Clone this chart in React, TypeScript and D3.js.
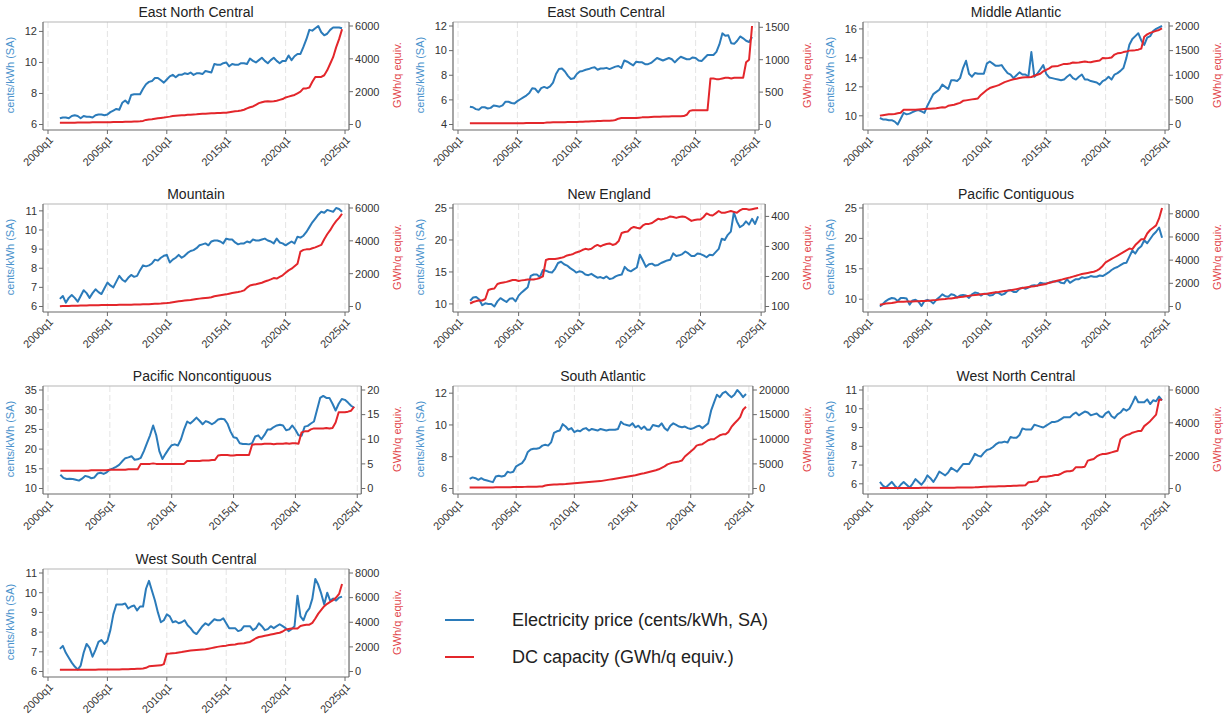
import React from "react";
import * as d3 from "d3";

const W = 1225;
const H = 717;

// ---------- data ----------
const years = d3.range(2001, 2025);
const quarterTimes = years.flatMap((y) => [y, y + 0.25, y + 0.5, y + 0.75]);
const xTickYears = [2000, 2005, 2010, 2015, 2020, 2025];

const regions = [
  "East North Central",
  "East South Central",
  "Middle Atlantic",
  "Mountain",
  "New England",
  "Pacific Contiguous",
  "Pacific Noncontiguous",
  "South Atlantic",
  "West North Central",
  "West South Central",
];

const priceENC = [
  6.40, 6.45, 6.45, 6.40,
  6.55, 6.60, 6.55, 6.40,
  6.55, 6.50, 6.50, 6.45,
  6.60, 6.65, 6.65, 6.60,
  6.65, 6.80, 6.90, 7.00,
  6.95, 7.40, 7.55, 7.35,
  7.90, 7.95, 7.95, 7.95,
  8.30, 8.60, 8.75, 8.80,
  9.00, 9.00, 8.85, 8.70,
  8.90, 9.10, 9.20, 9.05,
  9.20, 9.20, 9.30, 9.25,
  9.35, 9.20, 9.30, 9.30,
  9.25, 9.45, 9.40, 9.35,
  9.90, 9.85, 9.85, 9.95,
  10.00, 9.75, 9.90, 9.85,
  9.85, 9.95, 9.95, 9.90,
  10.25, 10.10, 10.00, 10.15,
  10.30, 10.10, 9.95, 10.15,
  10.30, 10.10, 9.95, 10.10,
  10.10, 10.45, 10.15, 10.40,
  10.55, 10.55, 11.00, 11.50,
  12.10, 12.05, 12.20, 12.35,
  11.95, 11.75, 11.85, 12.10,
  12.25, 12.25, 12.25, 12.20,
];
const dcENC = [
  100, 100, 100, 110,
  110, 110, 120, 120,
  120, 125, 125, 130,
  130, 130, 135, 140,
  140, 140, 145, 150,
  150, 155, 160, 165,
  170, 180, 190, 200,
  220, 280, 300, 320,
  350, 380, 400, 420,
  450, 480, 520, 540,
  550, 560, 570, 590,
  600, 610, 620, 640,
  650, 660, 670, 680,
  690, 700, 700, 710,
  720, 750, 780, 800,
  820, 850, 900, 980,
  1050, 1100, 1200, 1300,
  1350, 1400, 1420, 1400,
  1420, 1450, 1500, 1550,
  1650, 1700, 1750, 1800,
  1900, 2000, 2200, 2200,
  2250, 2600, 2900, 2900,
  2900, 3000, 3300, 3700,
  4100, 4700, 5200, 5800,
];

const priceESC = [
  5.45, 5.40, 5.25, 5.20,
  5.40, 5.40, 5.30, 5.35,
  5.55, 5.50, 5.45, 5.55,
  5.85, 5.85, 5.75, 5.70,
  5.90, 6.05, 6.20, 6.35,
  6.55, 6.95, 6.90, 6.60,
  6.95, 7.05, 6.95, 7.10,
  7.40, 8.10, 8.50, 8.55,
  8.30, 7.95, 7.70, 7.75,
  8.10, 8.30, 8.35, 8.45,
  8.50, 8.60, 8.65, 8.45,
  8.55, 8.55, 8.60, 8.50,
  8.60, 8.70, 8.75, 8.60,
  9.20, 9.10, 8.95, 8.80,
  9.10, 9.05, 9.05, 8.90,
  8.90, 9.00, 9.20, 9.40,
  9.30, 9.20, 9.30, 9.40,
  9.30, 9.05, 9.30, 9.50,
  9.40, 9.30, 9.30, 9.45,
  9.40, 9.20, 9.15, 9.40,
  9.65, 9.65, 9.65, 9.90,
  10.50, 11.40, 11.20, 11.25,
  10.60, 10.55, 10.80, 11.15,
  11.00, 10.80, 10.70, 11.10,
];
const dcESC = [
  20, 20, 20, 20,
  20, 20, 20, 20,
  20, 20, 20, 20,
  20, 20, 20, 20,
  20, 20, 20, 22,
  22, 22, 22, 22,
  24, 25, 30, 32,
  33, 34, 35, 35,
  36, 37, 38, 40,
  40, 42, 44, 46,
  48, 50, 52, 54,
  55, 56, 57, 58,
  60, 70, 90, 100,
  100, 100, 100, 100,
  100, 105, 110, 110,
  112, 115, 118, 120,
  120, 122, 124, 125,
  126, 127, 128, 128,
  130, 150, 210, 220,
  220, 220, 220, 220,
  220, 710, 710, 700,
  700, 710, 720, 720,
  710, 720, 720, 720,
  720, 960, 1000, 1520,
];

const priceMA = [
  9.85, 9.75, 9.75, 9.70,
  9.70, 9.60, 9.40, 9.80,
  10.20, 10.10, 10.15, 10.25,
  10.35, 10.40, 10.30, 10.20,
  10.70, 11.10, 11.50, 11.65,
  11.80, 12.15, 12.00, 11.85,
  12.45, 12.45, 12.40, 12.60,
  13.30, 13.80, 12.90, 12.70,
  12.95, 12.90, 12.90, 12.90,
  13.60, 13.75, 13.60, 13.45,
  13.45, 13.50, 13.20, 12.95,
  12.85, 12.60, 12.80, 13.00,
  12.85, 12.85, 12.70, 14.40,
  12.70, 12.90, 13.20, 13.50,
  12.90, 12.65, 12.60, 12.55,
  12.50, 12.45, 12.50, 12.70,
  12.85, 12.60, 12.50, 12.70,
  12.85, 12.50, 12.50, 12.40,
  12.35, 12.30, 12.15, 12.40,
  12.50, 12.70, 12.50, 12.85,
  12.95, 13.10, 13.30, 14.00,
  14.90, 15.30, 15.50, 15.70,
  15.20, 14.90, 15.40, 15.50,
  15.85, 16.00, 16.10, 16.20,
];
const dcMA = [
  180, 190, 200, 210,
  210, 215, 230, 240,
  300, 300, 300, 300,
  300, 305, 310, 315,
  320, 320, 325, 330,
  340, 350, 345, 380,
  390, 400, 420, 440,
  480, 490, 500, 510,
  520, 530, 600, 650,
  700, 740, 760, 780,
  800, 830, 860, 880,
  900, 920, 930, 945,
  955, 960, 960, 965,
  990, 1010, 1030, 1080,
  1110, 1140, 1180, 1185,
  1190, 1210, 1230, 1230,
  1240, 1260, 1255, 1260,
  1270, 1280, 1270, 1265,
  1280, 1290, 1300, 1350,
  1345, 1350, 1360, 1420,
  1445, 1450, 1470, 1480,
  1500, 1505, 1510, 1520,
  1540, 1780, 1830, 1860,
  1880, 1900, 1920, 1950,
];

const priceMTN = [
  6.40, 6.55, 6.20, 6.45,
  6.60, 6.45, 6.25, 6.55,
  6.85, 6.70, 6.45, 6.70,
  6.90, 6.75, 6.65, 6.95,
  7.25, 7.10, 7.00, 7.30,
  7.60, 7.40, 7.30, 7.50,
  7.65, 7.55, 7.60, 7.90,
  8.15, 8.10, 8.15, 8.25,
  8.45, 8.40, 8.55, 8.65,
  8.70, 8.30, 8.45, 8.55,
  8.70, 8.55, 8.65, 8.80,
  8.90, 8.95, 9.05, 9.20,
  9.25, 9.30, 9.20, 9.40,
  9.45, 9.45, 9.40, 9.30,
  9.55, 9.50, 9.50, 9.35,
  9.25, 9.30, 9.30, 9.40,
  9.35, 9.50, 9.45, 9.45,
  9.50, 9.55, 9.45, 9.40,
  9.30, 9.55, 9.35, 9.30,
  9.20, 9.30, 9.40, 9.30,
  9.65, 9.60, 9.70, 9.90,
  10.15, 10.40, 10.60, 10.80,
  10.95, 10.90, 11.05, 11.00,
  10.95, 11.15, 11.10, 10.95,
];
const dcMTN = [
  20, 25, 30, 35,
  40, 45, 50, 55,
  60, 65, 70, 75,
  80, 82, 85, 88,
  90, 92, 95, 98,
  100, 102, 105, 108,
  110, 115, 120, 125,
  130, 135, 140, 150,
  160, 170, 180, 195,
  210, 230, 260, 290,
  320, 340, 360, 380,
  400, 430, 460, 480,
  500, 520, 540, 560,
  620, 650, 680, 710,
  740, 780, 820, 850,
  880, 920, 980, 1150,
  1280, 1320, 1350, 1400,
  1450, 1520, 1580, 1650,
  1730, 1700, 1800, 1900,
  2050, 2200, 2300, 2450,
  2600, 3350, 3450, 3480,
  3480, 3550, 3600, 3680,
  3750, 4100, 4400, 4650,
  4950, 5200, 5400, 5650,
];

const priceNE = [
  10.5, 11.0, 11.1, 10.7,
  9.8, 10.1, 10.0, 10.0,
  9.6, 10.4, 10.9, 10.6,
  10.3, 10.8, 10.9, 10.4,
  11.3, 11.8, 12.2, 12.6,
  14.4, 14.6, 14.6, 14.2,
  15.3, 15.2, 15.0, 14.9,
  15.5, 16.4, 16.6, 16.2,
  16.0, 15.6, 15.3, 14.9,
  15.1, 15.0, 14.6, 14.5,
  14.7, 14.4, 14.1, 14.2,
  14.0, 14.3, 13.9, 14.0,
  14.3, 14.5, 14.6, 15.8,
  15.3, 15.1, 15.4, 15.7,
  17.7, 16.8, 15.8, 16.2,
  16.3, 16.0, 16.1, 16.4,
  16.6, 16.8, 16.9, 17.9,
  17.5, 17.6, 17.8, 18.2,
  17.9, 17.5, 17.5, 17.9,
  17.8, 17.6, 17.3, 17.7,
  17.6, 18.1, 18.6, 20.2,
  20.0, 20.8, 21.3, 24.3,
  22.9, 22.0, 22.3, 22.9,
  22.4, 23.3, 22.5, 23.7,
];
const dcNE = [
  110, 115, 118, 120,
  120, 125, 155, 158,
  160, 175, 178, 180,
  182, 185, 188, 188,
  185, 187, 188, 190,
  190, 190, 192, 195,
  200, 255, 258, 258,
  258, 260, 262, 265,
  270, 272, 275, 280,
  283, 288, 292, 290,
  292, 300, 305, 300,
  305, 308, 310, 305,
  308, 318, 345, 348,
  350, 360, 365, 362,
  360, 370, 375, 375,
  378, 385, 392, 390,
  392, 395, 400, 398,
  395, 398, 400, 398,
  392, 385, 388, 390,
  390, 398, 410, 405,
  403, 410, 418, 412,
  412, 415, 418, 415,
  412, 420, 425, 425,
  422, 424, 426, 428,
];

const pricePC = [
  8.8, 9.2, 9.7, 10.0,
  10.2, 10.1, 9.7, 10.2,
  10.2, 10.1, 9.1, 9.8,
  9.9, 9.6, 8.9, 9.7,
  9.9, 9.7, 9.3, 9.9,
  10.3, 10.8, 10.5, 10.4,
  10.8, 10.7, 10.3, 10.6,
  10.7, 10.6, 10.2, 10.8,
  11.1, 11.0, 10.6, 10.9,
  10.9, 10.6, 10.7, 11.1,
  11.0, 10.7, 10.9, 11.4,
  11.5, 11.2, 11.2, 11.7,
  11.9, 11.7, 11.9, 12.2,
  12.3, 12.2, 12.7, 12.6,
  12.6, 12.7, 12.9, 12.9,
  13.0, 12.7, 12.6, 13.3,
  12.7, 13.0, 13.3, 13.3,
  13.6, 13.5, 13.6, 13.8,
  13.7, 13.7, 13.9, 13.8,
  14.1, 14.4, 14.8, 15.1,
  15.3, 15.6, 15.9, 16.0,
  17.0, 18.0, 17.5, 18.3,
  18.7, 19.7, 19.2, 19.9,
  20.6, 21.1, 21.8, 20.1,
];
const dcPC = [
  150, 200, 250, 280,
  300, 350, 400, 410,
  420, 425, 430, 440,
  450, 460, 470, 480,
  500, 520, 550, 570,
  600, 630, 650, 680,
  700, 740, 780, 820,
  850, 890, 920, 960,
  1000, 1020, 1050, 1080,
  1100, 1140, 1180, 1220,
  1250, 1290, 1330, 1370,
  1400, 1450, 1500, 1550,
  1600, 1640, 1680, 1720,
  1750, 1800, 1850, 1900,
  1950, 2050, 2100, 2180,
  2250, 2300, 2380, 2450,
  2500, 2580, 2650, 2730,
  2800, 2850, 2900, 2950,
  3000, 3100, 3250, 3500,
  3800, 3950, 4100, 4250,
  4400, 4550, 4700, 4850,
  5000, 4950, 5300, 5550,
  5800, 5800, 6300, 6600,
  6800, 7000, 7600, 8500,
];

const pricePN = [
  13.5, 12.7, 12.4, 12.5,
  12.4, 12.2, 12.0, 12.5,
  13.2, 13.0, 12.6, 12.8,
  13.8, 14.0, 13.7, 14.1,
  14.8, 15.1, 15.5, 16.0,
  16.9, 17.7, 17.9, 18.2,
  17.3, 17.4, 17.8, 19.5,
  21.5, 23.5, 26.0, 23.5,
  19.5, 17.5, 18.8, 20.0,
  21.0, 21.2, 20.9, 22.5,
  25.0, 27.0, 26.5, 27.2,
  28.0, 27.2, 26.3, 27.1,
  26.8, 26.3, 26.8, 27.5,
  27.7, 27.6, 26.5, 24.5,
  23.0, 22.8, 21.5, 21.3,
  21.3, 21.2, 21.5, 23.2,
  23.5, 22.5, 23.6, 25.0,
  25.0, 25.6, 26.0, 26.2,
  26.0, 24.8, 25.0, 26.0,
  24.9, 23.5, 23.4, 25.7,
  25.9, 26.5, 27.0, 30.0,
  33.0, 33.5, 33.0, 33.0,
  31.5, 29.8, 31.5, 32.7,
  32.5, 31.8, 31.0, 30.5,
];
const dcPN = [
  3.6, 3.6, 3.6, 3.6,
  3.6, 3.6, 3.6, 3.6,
  3.6, 3.6, 3.7, 3.7,
  3.7, 3.7, 3.7, 3.7,
  3.8, 3.8, 3.8, 3.8,
  3.8, 3.8, 3.9, 3.9,
  3.9, 3.9, 5.0, 5.0,
  5.0, 5.0, 5.1, 5.0,
  5.0, 5.0, 5.0, 5.0,
  5.0, 5.0, 5.0, 5.0,
  5.0, 5.6, 5.6, 5.6,
  5.6, 5.6, 5.7, 5.7,
  5.7, 5.8, 5.8, 6.7,
  6.8, 6.8, 6.8, 6.7,
  6.7, 6.8, 6.8, 6.8,
  6.8, 6.8, 8.9, 9.0,
  9.0, 9.0, 9.1, 9.1,
  9.1, 9.0, 9.1, 9.1,
  9.1, 9.2, 9.1, 9.2,
  9.2, 9.1, 11.4, 11.6,
  11.6, 12.0, 12.2, 12.2,
  12.2, 12.2, 12.3, 12.2,
  12.3, 13.4, 15.5, 15.5,
  15.5, 15.6, 15.8, 16.6,
];

const priceSA = [
  6.60, 6.70, 6.65, 6.55,
  6.65, 6.55, 6.50, 6.45,
  6.40, 6.75, 6.80, 6.75,
  6.80, 7.05, 7.00, 7.05,
  7.40, 7.50, 7.60, 7.85,
  8.30, 8.45, 8.50, 8.50,
  8.55, 8.70, 8.75, 8.70,
  8.90, 9.50, 9.60, 9.65,
  10.05, 9.90, 9.70, 9.80,
  9.55, 9.65, 9.60, 9.75,
  9.80, 9.65, 9.75, 9.70,
  9.65, 9.75, 9.70, 9.65,
  9.70, 9.70, 9.70, 9.75,
  10.20, 10.05, 10.00, 9.95,
  10.10, 9.85, 9.95, 9.75,
  9.90, 9.70, 9.70, 10.00,
  9.95, 9.90, 10.10, 9.80,
  9.65, 9.95, 10.10, 10.00,
  9.90, 9.85, 9.90, 9.80,
  9.75, 9.80, 9.90, 9.95,
  9.80, 9.95, 10.10, 10.90,
  11.40, 11.90, 11.75, 12.00,
  12.10, 11.90, 11.75, 11.90,
  12.20, 12.00, 11.75, 11.95,
];
const dcSA = [
  200, 200, 200, 200,
  210, 210, 210, 220,
  220, 230, 230, 240,
  250, 260, 270, 280,
  300, 310, 320, 330,
  340, 350, 360, 380,
  400, 420, 600, 700,
  750, 800, 830, 850,
  880, 900, 950, 1000,
  1050, 1100, 1150, 1200,
  1250, 1300, 1350, 1400,
  1450, 1500, 1600, 1700,
  1800, 1900, 2000, 2100,
  2200, 2300, 2400, 2500,
  2600, 2700, 2850, 3000,
  3100, 3250, 3400, 3550,
  3700, 3900, 4200, 4500,
  4900, 5100, 5300, 5400,
  5500, 5700, 6500, 7000,
  7500, 8000, 8700, 8900,
  9000, 9400, 9800, 10000,
  10000, 10400, 10800, 11000,
  11000, 11500, 12500, 13200,
  13800, 14500, 16000, 16600,
];

const priceWNC = [
  6.10, 5.90, 5.80, 5.95,
  6.10, 5.90, 5.75, 5.95,
  6.10, 5.95, 5.80, 6.00,
  6.25, 6.10, 5.95, 6.15,
  6.45, 6.30, 6.10, 6.35,
  6.65, 6.55, 6.45, 6.60,
  6.85, 6.75, 6.65, 6.85,
  7.05, 7.05, 7.05, 7.30,
  7.60, 7.50, 7.45, 7.65,
  7.80, 7.85, 7.95, 8.10,
  8.20, 8.20, 8.25, 8.20,
  8.50, 8.45, 8.45, 8.60,
  8.95, 8.90, 8.90, 8.90,
  9.15, 9.10, 9.05, 9.00,
  9.10, 9.20, 9.30, 9.30,
  9.35, 9.45, 9.55, 9.55,
  9.55, 9.70, 9.80, 9.65,
  9.75, 9.85, 9.80, 9.65,
  9.70, 9.75, 9.60, 9.55,
  9.75, 9.85, 9.60, 9.50,
  9.70, 9.80, 10.00, 9.90,
  10.00, 10.30, 10.65, 10.35,
  10.35, 10.35, 10.50, 10.25,
  10.45, 10.40, 10.65, 10.45,
];
const dcWNC = [
  30, 30, 30, 30,
  30, 30, 30, 30,
  30, 35, 35, 35,
  35, 35, 40, 40,
  40, 40, 40, 45,
  45, 45, 50, 50,
  50, 50, 55, 55,
  55, 60, 60, 65,
  70, 80, 90, 100,
  110, 115, 120, 125,
  130, 135, 140, 145,
  150, 160, 170, 180,
  190, 200, 380, 400,
  420, 450, 700, 720,
  720, 750, 780, 820,
  820, 900, 1000, 1050,
  1050, 1100, 1300, 1300,
  1300, 1330, 1700, 1750,
  1800, 1950, 2050, 2100,
  2100, 2150, 2200, 2250,
  2300, 3000, 3150, 3250,
  3300, 3400, 3450, 3500,
  3500, 3800, 3950, 4100,
  4300, 4500, 5400, 5400,
];

const priceWSC = [
  7.15, 7.30, 6.95, 6.70,
  6.45, 6.25, 6.10, 6.30,
  6.95, 7.40, 7.20, 6.75,
  7.10, 7.50, 7.60, 7.40,
  7.55, 8.10, 8.90, 9.40,
  9.40, 9.40, 9.45, 9.20,
  9.30, 9.35, 9.10, 9.30,
  9.30, 10.20, 10.60, 10.10,
  9.60, 9.00, 8.50, 8.60,
  8.90, 8.80, 8.50, 8.55,
  8.45, 8.50, 8.60, 8.35,
  8.20, 8.00, 7.90, 8.10,
  8.30, 8.45, 8.35, 8.50,
  8.65, 8.60, 8.60, 8.70,
  8.45, 8.20, 8.20, 8.20,
  8.05, 8.10, 8.30, 8.30,
  8.30, 8.10, 8.20, 8.45,
  8.30, 8.10, 8.15, 8.30,
  8.20, 8.30, 8.40, 8.30,
  8.20, 8.05, 8.15, 8.30,
  9.85, 8.80, 8.60, 9.00,
  9.20, 9.70, 10.70, 10.40,
  9.95, 9.40, 10.00, 9.60,
  9.70, 9.60, 9.75, 9.80,
];
const dcWSC = [
  150, 150, 150, 150,
  150, 150, 150, 150,
  150, 150, 150, 150,
  150, 155, 155, 160,
  160, 160, 165, 165,
  170, 175, 180, 190,
  200, 210, 220, 230,
  250, 300, 420, 440,
  460, 480, 500, 600,
  1450, 1460, 1480, 1500,
  1550, 1580, 1620, 1660,
  1700, 1720, 1740, 1760,
  1780, 1800, 1850, 1900,
  1950, 2000, 2040, 2080,
  2100, 2150, 2180, 2200,
  2250, 2280, 2300, 2350,
  2400, 2550, 2700, 2800,
  2850, 2900, 2950, 3000,
  3050, 3100, 3150, 3250,
  3400, 3450, 3500, 3500,
  3500, 3700, 3750, 3800,
  3800, 3950, 4300, 4700,
  5000, 5300, 5500, 5650,
  5800, 6000, 6300, 7100,
];

const priceSeries = [priceENC, priceESC, priceMA, priceMTN, priceNE, pricePC, pricePN, priceSA, priceWNC, priceWSC];
const dcSeries = [dcENC, dcESC, dcMA, dcMTN, dcNE, dcPC, dcPN, dcSA, dcWNC, dcWSC];

const leftTicks = [
  [6, 8, 10, 12],
  [4, 6, 8, 10, 12],
  [10, 12, 14, 16],
  [6, 7, 8, 9, 10, 11],
  [10, 15, 20, 25],
  [10, 15, 20, 25],
  [10, 15, 20, 25, 30, 35],
  [6, 8, 10, 12],
  [6, 7, 8, 9, 10, 11],
  [6, 7, 8, 9, 10, 11],
];
const rightTicks = [
  [0, 2000, 4000, 6000],
  [0, 500, 1000, 1500],
  [0, 500, 1000, 1500, 2000],
  [0, 2000, 4000, 6000],
  [100, 200, 300, 400],
  [0, 2000, 4000, 6000, 8000],
  [0, 5, 10, 15, 20],
  [0, 5000, 10000, 15000, 20000],
  [0, 2000, 4000, 6000],
  [0, 2000, 4000, 6000, 8000],
];

const leftTitle = "cents/kWh (SA)";
const rightTitle = "GWh/q equiv.";
const legendItems = ["Electricity price (cents/kWh, SA)", "DC capacity (GWh/q equiv.)"];

// ---------- style / layout ----------
const FONT = "'Liberation Sans', Arial, Helvetica, sans-serif";
const BLUE = "#2b7bba";
const RED = "#e3262b";
const BLUE_TXT = "#4a92cc";
const RED_TXT = "#e2474c";
const AXIS = "#6a6a6a";
const colLeft = [0, 410, 820];
const rowTop = [22, 204, 386, 569];
const PLOT_H = 106;
const DIGIT_W = 6.12;

const fmtTick = d3.format("d");

function Panel({ k }: { k: number }) {
  const col = k % 3;
  const row = Math.floor(k / 3);
  const cx = colLeft[col];
  const y0 = rowTop[row];
  const y1 = y0 + PLOT_H;
  const lt = leftTicks[k];
  const rt = rightTicks[k];
  const price = priceSeries[k];
  const dc = dcSeries[k];
  const rW = (d3.max(rt, (t) => fmtTick(t).length) as number) * DIGIT_W;
  const x0 = cx + 43;
  const x1 = cx + 410 - (rW + 36.5);

  const x = d3.scaleLinear().domain([2000, 2025]).range([x0 + 5, x1 - 4]);
  const yL = d3
    .scaleLinear()
    .domain([Math.min(d3.min(price) as number, lt[0]), Math.max(d3.max(price) as number, lt[lt.length - 1])])
    .range([y1 - 3.5, y0 + 4]);
  const yR = d3
    .scaleLinear()
    .domain([Math.min(d3.min(dc) as number, rt[0]), Math.max(d3.max(dc) as number, rt[rt.length - 1])])
    .range([y1 - 3.5, y0 + 4]);

  const lineL = d3
    .line<number>()
    .x((_, i) => x(quarterTimes[i]))
    .y((v) => yL(v));
  const lineR = d3
    .line<number>()
    .x((_, i) => x(quarterTimes[i]))
    .y((v) => yR(v));

  const axisY = y1 + 2;
  const midY = (y0 + y1) / 2;

  return (
    <g>
      {/* grid */}
      {xTickYears.map((t) => (
        <line key={"g" + t} x1={x(t)} x2={x(t)} y1={y0} y2={y1} stroke="#e4e4e4" strokeWidth={1} strokeDasharray="6,3" />
      ))}
      {/* plot frame */}
      <line x1={x0} x2={x1} y1={y0} y2={y0} stroke="#b5b5b5" strokeWidth={1} />
      <line x1={x0} x2={x0} y1={y0} y2={axisY} stroke={AXIS} strokeWidth={1.2} />
      <line x1={x1} x2={x1} y1={y0} y2={axisY} stroke={AXIS} strokeWidth={1.2} />
      <line x1={x0} x2={x1} y1={axisY} y2={axisY} stroke={AXIS} strokeWidth={1.2} />

      {/* left axis */}
      {lt.map((t) => (
        <g key={"l" + t}>
          <line x1={x0 - 4} x2={x0} y1={yL(t)} y2={yL(t)} stroke={AXIS} strokeWidth={1} />
          <text x={x0 - 6} y={yL(t)} dy="0.35em" textAnchor="end" fontSize={11} fill="#333">
            {fmtTick(t)}
          </text>
        </g>
      ))}
      {/* right axis */}
      {rt.map((t) => (
        <g key={"r" + t}>
          <line x1={x1} x2={x1 + 4} y1={yR(t)} y2={yR(t)} stroke={AXIS} strokeWidth={1} />
          <text x={x1 + 6} y={yR(t)} dy="0.35em" textAnchor="start" fontSize={11} fill="#333">
            {fmtTick(t)}
          </text>
        </g>
      ))}
      {/* bottom axis */}
      {xTickYears.map((t) => (
        <g key={"x" + t}>
          <line x1={x(t)} x2={x(t)} y1={axisY} y2={axisY + 4} stroke={AXIS} strokeWidth={1} />
          <text
            transform={`translate(${x(t) + 3},${axisY + 8}) rotate(-45)`}
            dy="0.35em"
            textAnchor="end"
            fontSize={11}
            fill="#333"
          >
            {t + "q1"}
          </text>
        </g>
      ))}

      {/* series */}
      <path d={lineL(price) || ""} fill="none" stroke={BLUE} strokeWidth={2} strokeLinejoin="round" />
      <path d={lineR(dc) || ""} fill="none" stroke={RED} strokeWidth={2} strokeLinejoin="round" />

      {/* titles */}
      <text x={(x0 + x1) / 2} y={y0 - 5} textAnchor="middle" fontSize={14} fill="#222">
        {regions[k]}
      </text>
      <text
        transform={`translate(${cx + 10},${midY}) rotate(-90)`}
        textAnchor="middle"
        dy="0.35em"
        fontSize={11}
        fill={BLUE_TXT}
      >
        {leftTitle}
      </text>
      <text
        transform={`translate(${x1 + rW + 24},${midY}) rotate(-90)`}
        textAnchor="middle"
        dy="0.35em"
        fontSize={11}
        fill={RED_TXT}
      >
        {rightTitle}
      </text>
    </g>
  );
}

export default function App() {
  const legendColors = [BLUE, RED];
  const legendY = [620, 657];
  return (
    <svg
      width={W}
      height={H}
      viewBox={`0 0 ${W} ${H}`}
      style={{ position: "absolute", left: 0, top: 0, background: "#fff", fontFamily: FONT }}
    >
      <rect x={0} y={0} width={W} height={H} fill="#fff" />
      {regions.map((_, k) => (
        <Panel key={k} k={k} />
      ))}
      {legendItems.map((label, i) => (
        <g key={label}>
          <line x1={445} x2={474} y1={legendY[i]} y2={legendY[i]} stroke={legendColors[i]} strokeWidth={2} />
          <text x={512} y={legendY[i]} dy="0.35em" fontSize={18} fill="#222">
            {label}
          </text>
        </g>
      ))}
    </svg>
  );
}
